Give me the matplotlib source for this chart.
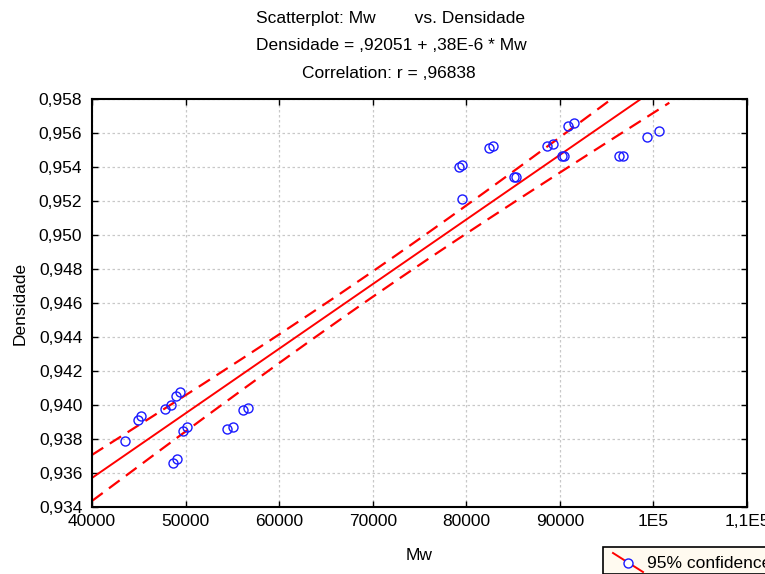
import numpy as np
import matplotlib
matplotlib.use("Agg")
import matplotlib.pyplot as plt
from matplotlib.lines import Line2D
from matplotlib.patches import Rectangle
from matplotlib.ticker import FuncFormatter

plt.rcParams['font.family'] = ['Liberation Sans', 'DejaVu Sans']

# Mw vs Densidade
mw = [43530, 44950, 45210, 47810, 48420, 48980, 49410, 49770, 50190, 48630,
      49060, 54470, 55110, 56120, 56720,
      79250, 79540, 82390, 82810, 79540, 85060, 85270, 88630, 89230, 90880,
      91480, 90240, 90480, 96360, 96760, 99330, 100570]
densidade = [0.93790, 0.93912, 0.93935, 0.93978, 0.94002, 0.94055, 0.94077, 0.93847, 0.93869, 0.93659,
             0.93681, 0.93857, 0.93869, 0.93969, 0.93981,
             0.95402, 0.95412, 0.95510, 0.95524, 0.95212, 0.95343, 0.95343, 0.95524, 0.95534, 0.95643,
             0.95657, 0.95466, 0.95466, 0.95466, 0.95466, 0.95578, 0.95610]
intercept = 0.92051
slope = 0.38e-6
x_ticks = [40000, 50000, 60000, 70000, 80000, 90000, 100000, 110000]
x_ticklabels = ['40000', '50000', '60000', '70000', '80000', '90000', '1E5', '1,1E5']
y_ticks = np.arange(0.934, 0.9581, 0.002)

x = np.array(mw)
y = np.array(densidade)
n = len(x)

# 95% confidence band of the regression line
resid = y - (intercept + slope * x)
s = np.sqrt(np.sum(resid ** 2) / (n - 2))
sxx = np.sum((x - x.mean()) ** 2)
xs = np.linspace(40000, 101700, 200)
fit = intercept + slope * xs
half = 2.042 * s * np.sqrt(1.0 / n + (xs - x.mean()) ** 2 / sxx)

fig = plt.figure(figsize=(7.65, 5.74), dpi=100)
ax = fig.add_axes([92 / 765, 1 - 507 / 574, (747 - 92) / 765, (507 - 99) / 574])

ax.plot(xs, fit, color='red', lw=1.4)
ax.plot(xs, fit + half, color='red', lw=1.6, dashes=(6, 3.5))
ax.plot(xs, fit - half, color='red', lw=1.6, dashes=(6, 3.5))
ax.plot(x, y, 'o', mfc='none', mec='#1a1aff', mew=1.0, ms=6.5, ls='none')

ax.set_xlim(40000, 110000)
ax.set_ylim(0.934, 0.958)
ax.set_xticks(x_ticks)
ax.set_xticklabels(x_ticklabels)
ax.set_yticks(y_ticks)
ax.yaxis.set_major_formatter(FuncFormatter(lambda v, p: ('%.3f' % v).replace('.', ',')))
ax.tick_params(direction='in', length=4, width=1, top=True, right=True, labelsize=12.5, pad=5)
ax.tick_params(axis='y', pad=7)
ax.grid(True, color='#c8c8c8', ls=(0, (2, 2)), lw=0.9)
for sp in ax.spines.values():
    sp.set_linewidth(1.5)

ax.set_xlabel('Mw', fontsize=12.5, labelpad=14)
ax.set_ylabel('Densidade', fontsize=12.5, labelpad=8)

fig.text(0.511, 1 - 18 / 574, 'Scatterplot: Mw        vs. Densidade', ha='center', va='center', fontsize=12.5)
fig.text(0.511, 1 - 45 / 574, 'Densidade = ,92051 + ,38E-6 * Mw', ha='center', va='center', fontsize=12.5)
fig.text(0.508, 1 - 73 / 574, 'Correlation: r = ,96838', ha='center', va='center', fontsize=12.5)

# legend box, cut off at the figure edge as in the original
fig.patches.append(Rectangle((603 / 765, 0), 0.3, (574 - 547) / 574, transform=fig.transFigure,
                             facecolor='#fffaf0', edgecolor='black', lw=1.2))
fig.lines.append(Line2D([613 / 765, 643 / 765], [1 - 553 / 574, 1 - 572 / 574],
                        transform=fig.transFigure, color='red', lw=1.4))
fig.lines.append(Line2D([628 / 765], [1 - 563 / 574], transform=fig.transFigure, marker='o',
                        mfc='white', mec='#1a1aff', ms=6.5, mew=1.0))
fig.text(647 / 765, 1 - 563 / 574, '95% confidence', ha='left', va='center', fontsize=12.5)

fig.savefig('out.png', dpi=100)
